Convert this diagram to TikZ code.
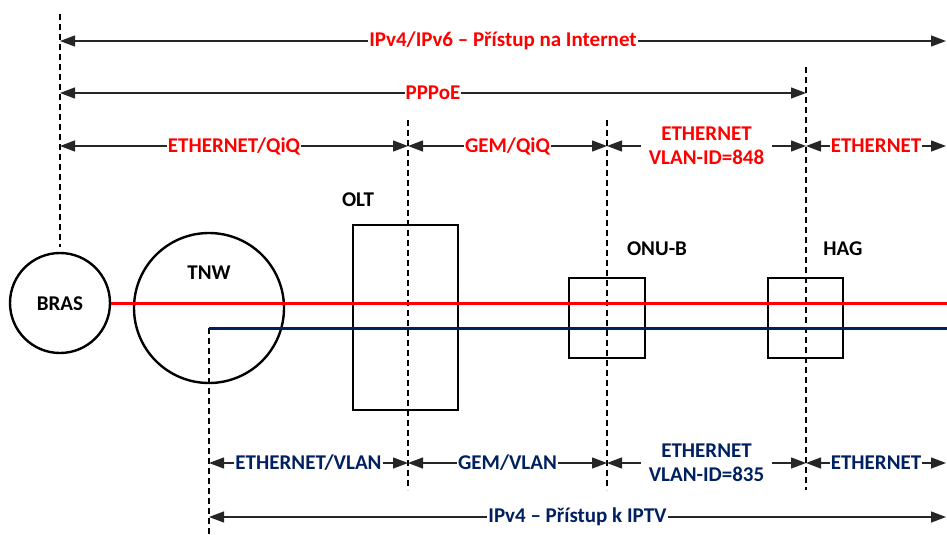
\documentclass[tikz,border=0pt]{standalone}
\usepackage{fontspec}
\setmainfont{Carlito}
\usetikzlibrary{arrows.meta}
\definecolor{navy}{HTML}{002060}
\definecolor{pred}{HTML}{FF0000}
\begin{document}
\begin{tikzpicture}[x=1pt,y=-1pt,
  dim/.style={{Triangle[length=15pt,width=11pt]}-{Triangle[length=15pt,width=11pt]}, line width=1.3pt, draw=black!85},
  guide/.style={dash pattern=on 6pt off 4pt, line width=1.2pt},
  lbl/.style={font=\bfseries\fontsize{21}{24}\selectfont, fill=white, inner sep=1pt, align=center},
  redlbl/.style={lbl, text=pred},
  bluelbl/.style={lbl, text=navy},
  devlbl/.style={font=\bfseries\fontsize{21}{24}\selectfont, inner sep=0pt},
  dev/.style={draw, line width=2.4pt, inner sep=0pt}]
\useasboundingbox (0,0) rectangle (947,535);

% coordinates of the guide lines
\coordinate (g1t) at (60,14);   \coordinate (g1b) at (60,247);
\coordinate (g2t) at (408,120); \coordinate (g2b) at (408,490);
\coordinate (g3t) at (607,120); \coordinate (g3b) at (607,490);
\coordinate (g4t) at (806,67);  \coordinate (g4b) at (806,490);
\coordinate (g5t) at (209,328); \coordinate (g5b) at (209,535);

\draw[guide] (g1t) -- (g1b);
\draw[guide] (g2t) -- (g2b);
\draw[guide] (g3t) -- (g3b);
\draw[guide] (g4t) -- (g4b);
\draw[guide] (g5t) -- (g5b);

% devices
\node[dev, circle, minimum size=100pt] (bras) at (60,303) {};
\node[devlbl] (braslbl) at (60,304) {BRAS};
\node[dev, circle, minimum size=150pt] (tnw) at (209,308) {};
\node[devlbl] (tnwlbl) at (209,273) {TNW};
\node[dev, rectangle, minimum width=105pt, minimum height=185pt] (olt) at (405.5,317.5) {};
\node[devlbl] (oltlbl) at (358,200) {OLT};
\node[dev, rectangle, minimum width=76pt, minimum height=80pt] (onu) at (607,318) {};
\node[devlbl] (onulbl) at (657,249) {ONU-B};
\node[dev, rectangle, minimum width=75pt, minimum height=80pt] (hag) at (805.5,318) {};
\node[devlbl] (haglbl) at (843,249) {HAG};

% signal lines
\coordinate (redend) at (947,303);
\coordinate (blueend) at (947,328);
\draw[pred, line width=3pt] (bras.east) -- (redend);
\draw[navy, line width=3pt] (g5t) -- (blueend);

% top dimension rows
\draw[dim] (60,41) -- node[redlbl] (l1) {IPv4/IPv6 – Přístup na Internet} (946,41);
\draw[dim] (60,93) -- node[redlbl] (l2) {PPPoE} (806,93);
\draw[dim] (60,146) -- node[redlbl] (l3) {ETHERNET/QiQ} (408,146);
\draw[dim] (408,146) -- node[redlbl] (l4) {GEM/QiQ} (607,146);
\draw[dim] (607,146) -- node[redlbl, inner xsep=8pt] (l5) {ETHERNET\\VLAN-ID=848} (806,146);
\draw[dim] (806,146) -- node[redlbl] (l6) {ETHERNET} (946,146);

% bottom dimension rows
\draw[dim] (209,463) -- node[bluelbl] (b1) {ETHERNET/VLAN} (408,463);
\draw[dim] (408,463) -- node[bluelbl] (b2) {GEM/VLAN} (607,463);
\draw[dim] (607,463) -- node[bluelbl, inner xsep=8pt] (b3) {ETHERNET\\VLAN-ID=835} (806,463);
\draw[dim] (806,463) -- node[bluelbl] (b4) {ETHERNET} (946,463);
\draw[dim] (209,517) -- node[bluelbl] (b5) {IPv4 – Přístup k IPTV} (946,517);
\end{tikzpicture}
\end{document}
